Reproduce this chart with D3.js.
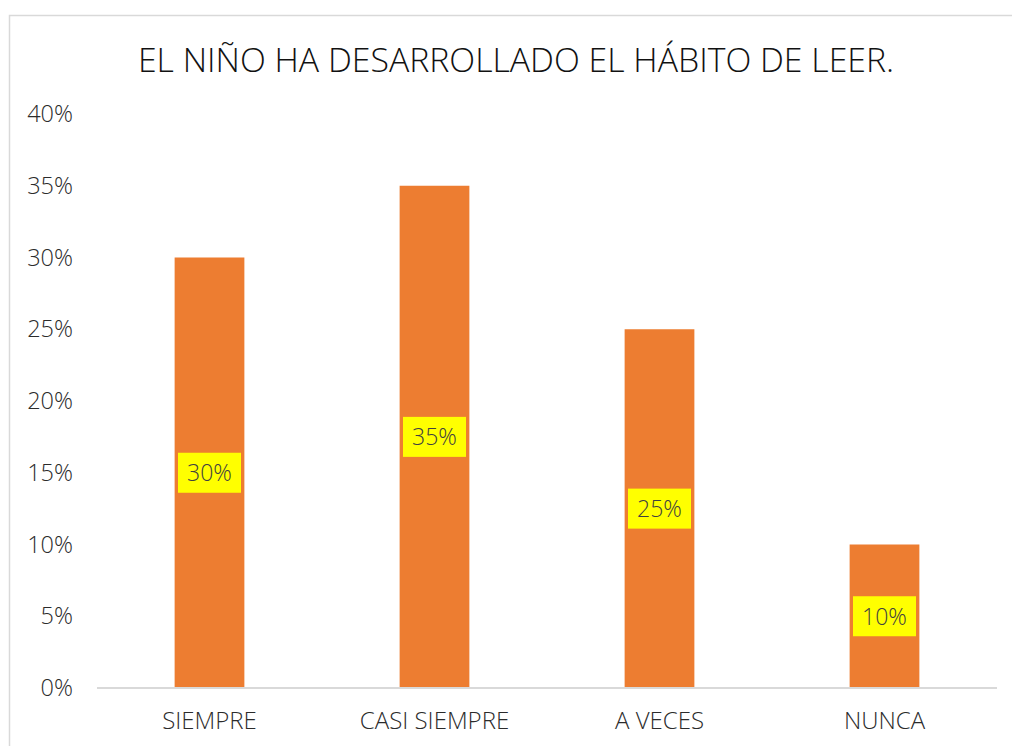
<!DOCTYPE html>
<meta charset="UTF-8">
<style>
body { margin: 0; background: #fff; }
text { font-family: "Open Sans", sans-serif; font-weight: 300; }
</style>
<body>
<script src="https://d3js.org/d3.v7.min.js"></script>
<script>

// data
var categories = ["SIEMPRE", "CASI SIEMPRE", "A VECES", "NUNCA"];
var values = [0.30, 0.35, 0.25, 0.10];
var yTicks = [0, 0.05, 0.10, 0.15, 0.20, 0.25, 0.30, 0.35, 0.40];
var title = "EL NIÑO HA DESARROLLADO EL HÁBITO DE LEER.";

var width = 1012, height = 746;
var margin = {top: 114, right: 15, bottom: 58, left: 97};

var svg = d3.select("body").append("svg")
    .attr("width", width)
    .attr("height", height);

// chart frame
svg.append("rect")
    .attr("x", 9.5).attr("y", 15.5)
    .attr("width", width + 10).attr("height", height + 10)
    .attr("fill", "none")
    .attr("stroke", "#d9d9d9")
    .attr("stroke-width", 1.5);

svg.append("text")
    .attr("x", 516).attr("y", 72)
    .attr("text-anchor", "middle")
    .style("font-size", "33.8px")
    .style("fill", "#111")
    .text(title);

var x = d3.scaleBand()
    .domain(categories)
    .range([margin.left, 997])
    .paddingInner(0.69)
    .paddingOuter(0.345);

var y = d3.scaleLinear()
    .domain([0, 0.4])
    .range([688, margin.top]);

// y axis labels, no line
var yAxis = svg.append("g")
    .attr("transform", "translate(73,0)")
    .call(d3.axisLeft(y).tickValues(yTicks).tickFormat(d3.format(".0%")).tickSize(0).tickPadding(0));
yAxis.select(".domain").remove();
yAxis.selectAll("text")
    .style("font-size", "23.5px")
    .style("font-family", "'Open Sans', sans-serif")
    .style("fill", "#2b2b2b");

// bars
svg.selectAll("rect.bar")
    .data(values)
  .enter().append("rect")
    .attr("class", "bar")
    .attr("x", function(d, i) { return x(categories[i]); })
    .attr("y", function(d) { return y(d); })
    .attr("width", x.bandwidth())
    .attr("height", function(d) { return y(0) - y(d); })
    .attr("fill", "#ed7d31");

// baseline
svg.append("line")
    .attr("x1", 97).attr("x2", 997)
    .attr("y1", y(0)).attr("y2", y(0))
    .attr("stroke", "#d9d9d9")
    .attr("stroke-width", 2);

// x axis labels
var xAxis = svg.append("g")
    .attr("transform", "translate(0," + y(0) + ")")
    .call(d3.axisBottom(x).tickSize(0).tickPadding(24));
xAxis.select(".domain").remove();
xAxis.selectAll("text")
    .style("font-size", "24px")
    .style("font-family", "'Open Sans', sans-serif")
    .style("fill", "#2b2b2b");

// data labels on yellow boxes
var lab = svg.selectAll("g.lab")
    .data(values)
  .enter().append("g")
    .attr("class", "lab")
    .attr("transform", function(d, i) {
      return "translate(" + (x(categories[i]) + x.bandwidth() / 2) + "," + ((y(d) + y(0)) / 2) + ")";
    });

lab.append("rect")
    .attr("x", -31.5).attr("y", -20)
    .attr("width", 63).attr("height", 40)
    .attr("fill", "#ffff00");

lab.append("text")
    .attr("text-anchor", "middle")
    .attr("dy", "0.36em")
    .style("font-size", "23px")
    .style("fill", "#404040")
    .text(function(d) { return d3.format(".0%")(d); });

</script>
</body>
